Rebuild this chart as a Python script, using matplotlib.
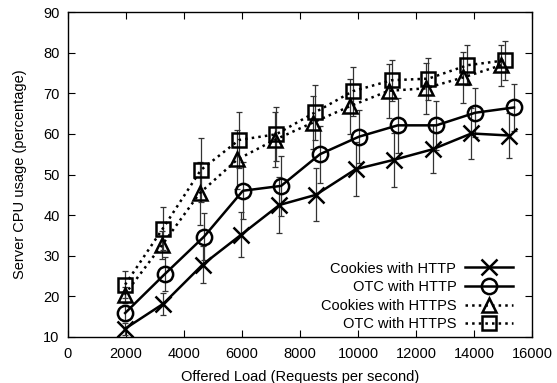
import matplotlib
matplotlib.use("Agg")
import matplotlib.pyplot as plt
from matplotlib.lines import Line2D

plt.rcParams['font.family'] = ['Liberation Sans', 'DejaVu Sans']

# Offered load (requests/s) and server CPU usage (%) with error half-widths
cookies_http_x = [1960, 3290, 4640, 5975, 7290, 8550, 9920, 11230, 12570, 13910, 15210]
cookies_http_y = [12.0, 18.2, 27.8, 35.2, 42.5, 45.0, 51.3, 53.6, 56.2, 60.1, 59.6]
cookies_http_err = [1.5, 2.7, 4.5, 5.5, 7.0, 6.5, 6.6, 6.6, 5.9, 6.3, 5.5]

otc_http_x = [1970, 3340, 4690, 6030, 7350, 8690, 10030, 11370, 12700, 14040, 15380]
otc_http_y = [15.9, 25.5, 34.7, 46.0, 47.2, 55.0, 59.3, 62.1, 62.1, 65.2, 66.5]
otc_http_err = [2.0, 4.2, 5.8, 7.0, 7.4, 7.0, 6.5, 6.7, 6.1, 6.0, 5.7]

cookies_https_x = [1950, 3250, 4540, 5840, 7150, 8450, 9720, 11060, 12330, 13630, 14940]
cookies_https_y = [20.4, 32.7, 45.4, 53.7, 58.6, 62.8, 66.8, 70.6, 71.2, 73.9, 76.9]
cookies_https_err = [2.0, 3.5, 7.8, 7.2, 6.8, 6.5, 6.8, 6.6, 6.2, 6.3, 5.0]

otc_https_x = [1970, 3260, 4580, 5900, 7180, 8520, 9820, 11160, 12430, 13770, 15080]
otc_https_y = [22.9, 36.6, 51.1, 58.5, 59.9, 65.3, 70.5, 73.2, 73.6, 76.9, 78.1]
otc_https_err = [3.4, 5.3, 7.8, 6.8, 6.6, 6.7, 6.0, 5.1, 5.2, 4.9, 4.8]

labels = ["Cookies with HTTP", "OTC with HTTP", "Cookies with HTTPS", "OTC with HTTPS"]
x_ticks = [0, 2000, 4000, 6000, 8000, 10000, 12000, 14000, 16000]
y_ticks = [10, 20, 30, 40, 50, 60, 70, 80, 90]

series = [
    (cookies_http_x, cookies_http_y, cookies_http_err, 'x', '-', 11),
    (otc_http_x, otc_http_y, otc_http_err, 'o', '-', 11),
    (cookies_https_x, cookies_https_y, cookies_https_err, '^', ':', 10),
    (otc_https_x, otc_https_y, otc_https_err, 's', ':', 10.5),
]

fig = plt.figure(figsize=(5.57, 3.83), dpi=100)
ax = fig.add_axes([68 / 557, 1 - 337 / 383, (532 - 68) / 557, (337 - 12) / 383])

handles = []
for (xs, ys, es, mk, ls, ms), lab in zip(series, labels):
    ax.errorbar(xs, ys, yerr=es, fmt='none', ecolor='#333333', elinewidth=0.9,
                capsize=2.5, capthick=0.9, zorder=2)
    ax.plot(xs, ys, linestyle=ls, color='black', linewidth=1.8,
            marker=mk, markersize=ms, markerfacecolor='none',
            markeredgecolor='black', markeredgewidth=1.8, zorder=3)
    handles.append(Line2D([], [], linestyle=ls, color='black', linewidth=1.8,
                          marker=mk, markersize=ms, markerfacecolor='none',
                          markeredgecolor='black', markeredgewidth=1.8))

ax.set_xlim(0, 16000)
ax.set_ylim(10, 90)
ax.set_xticks(x_ticks)
ax.set_yticks(y_ticks)
ax.tick_params(direction='in', top=True, right=True, length=5, width=0.8,
               labelsize=10.5)
ax.tick_params(axis='x', pad=7.5)
ax.tick_params(axis='y', pad=6)
for sp in ax.spines.values():
    sp.set_linewidth(1.0)

ax.set_xlabel("Offered Load (Requests per second)", fontsize=10.5, labelpad=6)
ax.set_ylabel("Server CPU usage (percentage)", fontsize=10.5, labelpad=12)

ax.legend(handles, labels, loc='lower right', frameon=False, markerfirst=False,
          handlelength=3.3, fontsize=10.5, labelspacing=0.31,
          handletextpad=0.6, borderaxespad=0.0, bbox_to_anchor=(0.972, 0.0))

fig.savefig("out.png", dpi=100)
